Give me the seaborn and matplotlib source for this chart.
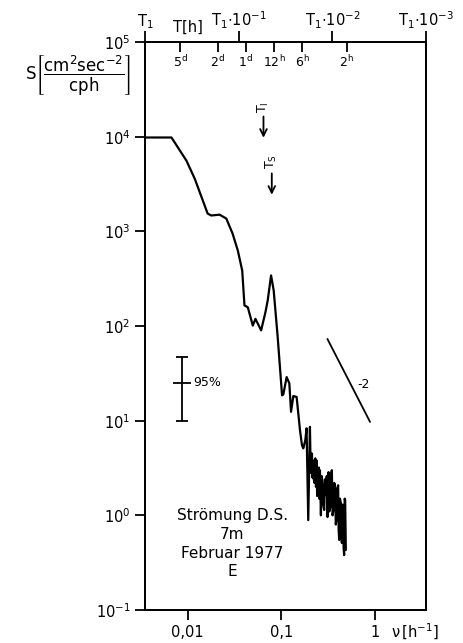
import matplotlib
matplotlib.use("Agg")
import matplotlib.pyplot as plt
import matplotlib.ticker as mticker
import pandas as pd
import seaborn as sns

# Current spectrum, Darss sill 7 m, February 1977, east component
# frequency nu [1/h] and spectral density S [cm^2 sec^-2 / cph]
freq = [0.0035, 0.00671, 0.00969, 0.01187, 0.01633, 0.01786, 0.02188, 0.02582,
        0.03013, 0.03428, 0.03819, 0.04036, 0.04378, 0.04955, 0.05287, 0.06081,
        0.0676, 0.07145, 0.07763, 0.08277, 0.09138, 0.1017, 0.105, 0.1138,
        0.1216, 0.1268, 0.1342, 0.1455, 0.1581, 0.166, 0.1714, 0.18, 0.1858,
        0.1936, 0.2018, 0.2050, 0.2084, 0.2120, 0.2150, 0.2188, 0.2220, 0.2259,
        0.2300, 0.2340, 0.2374, 0.2410, 0.2455, 0.2510, 0.2540, 0.2580, 0.2643,
        0.2700, 0.2749, 0.2800, 0.2864, 0.2920, 0.2989, 0.3050, 0.3110, 0.3186,
        0.3250, 0.3321, 0.3390, 0.3459, 0.3520, 0.3597, 0.3670, 0.3750, 0.3810,
        0.3873, 0.3950, 0.4036, 0.4090, 0.4139, 0.4220, 0.4315, 0.4370, 0.4426,
        0.4500, 0.4571, 0.4620, 0.4677, 0.4740, 0.4797, 0.4877]
spec = [9800, 9800, 5580, 3610, 1540, 1470, 1500, 1365,
        948, 627, 385, 165, 158, 101, 119, 90,
        140, 186, 342, 238, 76, 18.5, 19, 28.9,
        24.8, 12.4, 18.2, 17.8, 7.9, 5.5, 5.1, 6.2, 8.3,
        0.89, 8.6, 3.5, 2.8, 4.5, 2.5, 3.8, 2.4, 2.2,
        4.0, 2.0, 3.8, 1.6, 1.85, 3.2, 1.5, 3.0, 1.0,
        2.6, 2.2, 1.3, 1.14, 2.4, 1.63, 2.6, 0.96, 2.86,
        1.1, 1.22, 2.7, 3.0, 1.0, 1.14, 2.2, 1.98, 0.8,
        0.89, 1.9, 2.08, 0.7, 0.55, 1.5, 1.35, 0.6, 0.51,
        1.3, 1.14, 0.45, 0.38, 1.5, 1.45, 0.43]

# bottom axis ticks
x_ticks = [0.01, 0.1, 1]
x_labels = ["0,01", "0,1", "1"]
y_ticks = [1e-1, 1e0, 1e1, 1e2, 1e3, 1e4, 1e5]
y_labels = [r"$10^{-1}$", r"$10^{0}$", r"$10^{1}$", r"$10^{2}$",
            r"$10^{3}$", r"$10^{4}$", r"$10^{5}$"]

# period axis on top: T1 is the record-length period at the left edge
f_lo, f_hi = 0.0035, 3.5
t1_freqs = [f_lo, f_lo * 10, f_lo * 100, f_lo * 1000]
t1_labels = [r"$T_1$", r"$T_1{\cdot}10^{-1}$", r"$T_1{\cdot}10^{-2}$",
             r"$T_1{\cdot}10^{-3}$"]
period_hours = [120, 48, 24, 12, 6, 2]
period_labels = [r"$5^{d}$", r"$2^{d}$", r"$1^{d}$", r"$12^{h}$",
                 r"$6^{h}$", r"$2^{h}$"]

# 95 % confidence interval
ci_freq = 0.0086
ci_mid, ci_low, ci_high = 25, 10, 47
# reference slope -2
slope_freq = [0.31, 0.885]
slope_spec = [73, 9.7]
# inertial (T_I) and semidiurnal (T_S) periods
ti_freq = 0.0644
ts_freq = 0.0790

sns.set_theme(style="ticks")
plt.rcParams["font.family"] = ["DejaVu Sans"]
plt.rcParams["mathtext.fontset"] = "dejavusans"
plt.rcParams["mathtext.default"] = "regular"
for key in ("text.color", "axes.labelcolor", "xtick.color", "ytick.color",
            "axes.edgecolor"):
    plt.rcParams[key] = "black"

fig = plt.figure(figsize=(4.64, 6.43), dpi=100)
ax = fig.add_axes([145 / 464, 1 - 610 / 643, 281 / 464, 568 / 643])

df = pd.DataFrame({"nu": freq, "S": spec})
sns.lineplot(data=df, x="nu", y="S", sort=False, estimator=None,
             color="black", lw=1.6, ax=ax)

ax.set_xscale("log")
ax.set_yscale("log")
ax.set_xlim(f_lo, f_hi)
ax.set_ylim(1e-1, 1e5)
ax.xaxis.set_major_locator(mticker.FixedLocator(x_ticks))
ax.xaxis.set_major_formatter(mticker.FixedFormatter(x_labels))
ax.xaxis.set_minor_locator(mticker.NullLocator())
ax.yaxis.set_major_locator(mticker.FixedLocator(y_ticks))
ax.yaxis.set_major_formatter(mticker.FixedFormatter(y_labels))
ax.yaxis.set_minor_locator(mticker.NullLocator())
ax.set_xlabel("")
ax.set_ylabel("")
ax.tick_params(axis="both", which="major", direction="out", length=7,
               width=1.3, labelsize=10.5, color="black", labelcolor="black")
for sp in ax.spines.values():
    sp.set_linewidth(1.3)
    sp.set_color("black")

# top period axis
top = ax.twiny()
top.set_xscale("log")
top.set_xlim(f_lo, f_hi)
top.xaxis.set_major_locator(mticker.FixedLocator(t1_freqs))
top.xaxis.set_major_formatter(mticker.FixedFormatter(t1_labels))
top.xaxis.set_minor_locator(mticker.FixedLocator([1 / h for h in period_hours]))
top.xaxis.set_minor_formatter(mticker.FixedFormatter(period_labels))
top.tick_params(axis="x", which="major", direction="out", length=8,
                width=1.3, labelsize=10.5, pad=0)
top.tick_params(axis="x", which="minor", direction="in", length=7,
                width=1.3, labelsize=9, pad=-20)
for sp in top.spines.values():
    sp.set_linewidth(1.3)
    sp.set_color("black")
top.text(1 / 100, 1.012, "T[h]", transform=top.get_xaxis_transform(),
         ha="center", va="bottom", fontsize=10.5)

# 95 % confidence bar
ax.errorbar([ci_freq], [ci_mid], yerr=[[ci_mid - ci_low], [ci_high - ci_mid]],
            fmt="_", color="black", lw=1.3, capsize=4, capthick=1.3,
            markersize=13, markeredgewidth=1.3)
ax.text(0.0116, ci_mid, "95%", ha="left", va="center", fontsize=9)

# slope -2 guide
ax.plot(slope_freq, slope_spec, color="black", lw=1.3)
ax.text(0.64, 24, "-2", ha="left", va="center", fontsize=9)

# period markers
ax.annotate("", xy=(ti_freq, 9100), xytext=(ti_freq, 17500),
            arrowprops=dict(arrowstyle="->", lw=1.3, color="black"))
ax.text(ti_freq, 20500, r"$T_I$", rotation=90, ha="center", va="center",
        fontsize=9)
ax.annotate("", xy=(ts_freq, 2275), xytext=(ts_freq, 4380),
            arrowprops=dict(arrowstyle="->", lw=1.3, color="black"))
ax.text(ts_freq, 5400, r"$T_S$", rotation=90, ha="center", va="center",
        fontsize=9)

ax.text(0.030, 0.5, "Strömung D.S.\n7m\nFebruar 1977\nE", ha="center",
        va="center", multialignment="center", fontsize=11, linespacing=1.3)

# axis titles
fig.text(78 / 464, 1 - 75 / 643,
         r"$S\left[\dfrac{\mathrm{cm^{2}sec^{-2}}}{\mathrm{cph}}\right]$",
         ha="center", va="center", fontsize=12)
fig.text(415 / 464, 1 - 632 / 643, r"$\nu\,[h^{-1}]$", ha="center",
         va="center", fontsize=10.5)

fig.savefig("out.png", dpi=100, facecolor="white")
